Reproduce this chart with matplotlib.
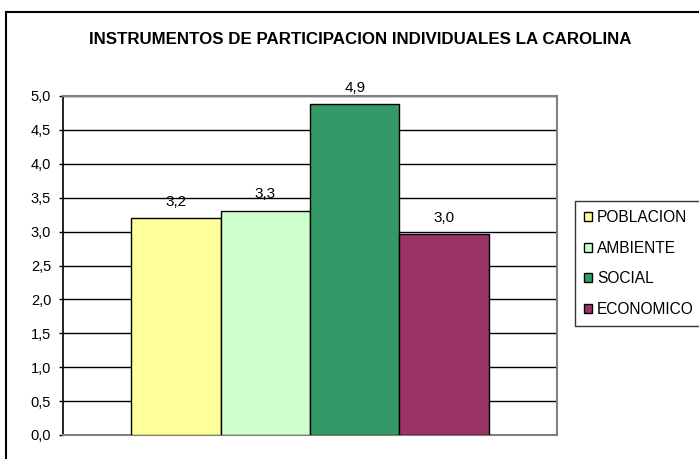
import matplotlib
matplotlib.use("Agg")
import matplotlib.pyplot as plt
from matplotlib.patches import Patch
from matplotlib.lines import Line2D

plt.rcParams['font.family'] = ['Liberation Sans', 'DejaVu Sans']

title = "INSTRUMENTOS DE PARTICIPACION INDIVIDUALES LA CAROLINA"
categories = ["POBLACION", "AMBIENTE", "SOCIAL", "ECONOMICO"]
values = [3.20, 3.31, 4.88, 2.96]
colors = ["#FFFF99", "#CCFFCC", "#339966", "#993366"]
yticks = [0.0, 0.5, 1.0, 1.5, 2.0, 2.5, 3.0, 3.5, 4.0, 4.5, 5.0]

fig = plt.figure(figsize=(6.99, 4.59), dpi=100)

# chart frame (left and top edges visible)
fig.add_artist(Line2D([6/699, 6/699], [-0.01, 1 - 12/459], color="black", lw=1.5,
                      transform=fig.transFigure))
fig.add_artist(Line2D([6/699, 1.01], [1 - 12/459, 1 - 12/459], color="black", lw=1.5,
                      transform=fig.transFigure))

ax = fig.add_axes([63/699, 1 - 435/459, (557 - 63)/699, (435 - 96)/459])

x = list(range(len(values)))
bars = ax.bar(x, values, width=1.0, color=colors, edgecolor="black", linewidth=1.0, zorder=3)

for xi, v in zip(x, values):
    ax.text(xi, v + 0.14, f"{v:.1f}".replace(".", ","), ha="center", va="bottom",
            fontsize=11, zorder=4)

ax.set_ylim(0, 5.0)
ax.set_xlim(-1.26, 4.26)
ax.set_yticks(yticks)
ax.set_yticklabels([f"{t:.1f}".replace(".", ",") for t in yticks], fontsize=10.5)
ax.set_xticks([])
ax.tick_params(axis="y", direction="out", length=3, width=1, pad=5.5)
ax.yaxis.grid(True, color="black", linewidth=1.0, zorder=0)
ax.set_axisbelow(True)

for side in ["top", "right", "bottom"]:
    ax.spines[side].set_color("#808080")
    ax.spines[side].set_linewidth(1.5)
ax.spines["left"].set_color("black")
ax.spines["left"].set_linewidth(1.2)

fig.text(360/699, 1 - 40/459, title, ha="center", va="center",
         fontsize=12.2, fontweight="bold")

handles = [Patch(facecolor=c, edgecolor="black", linewidth=1.0, label=l)
           for c, l in zip(colors, categories)]
leg = fig.legend(handles=handles, loc="upper left",
                 bbox_to_anchor=(575/699, 1 - 201/459),
                 fontsize=11.2, frameon=True, fancybox=False,
                 handlelength=0.5, handleheight=0.5, handletextpad=0.3,
                 labelspacing=1.0, borderpad=0.6, borderaxespad=0)
leg.get_frame().set_edgecolor("black")
leg.get_frame().set_linewidth(1.0)

fig.savefig("out.png", dpi=100)
